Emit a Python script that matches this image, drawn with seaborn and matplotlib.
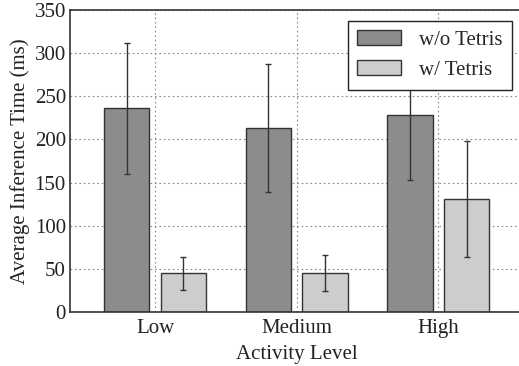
import numpy as np
import pandas as pd
import seaborn as sns
import matplotlib.pyplot as plt

#----------------------------------data
levels = ["Low", "Medium", "High"]
series = ["w/o Tetris", "w/ Tetris"]
mean_without = [236, 213, 228]
err_without = [76, 74, 75]
mean_with = [45, 45, 131]
err_with = [19, 21, 67]

df = pd.DataFrame({
    "level": levels * 2,
    "method": [series[0]] * 3 + [series[1]] * 3,
    "time": mean_without + mean_with,
    "err": err_without + err_with,
})

#----------------------------------style
sns.set_style("white")
plt.rcParams["font.family"] = ["Liberation Serif", "DejaVu Serif"]
fs = 15

fig = plt.figure(figsize=(5.19, 3.66), dpi=100)
ax = fig.add_axes([0.135, 0.1475, 0.873, 0.825])

ax = sns.barplot(data=df, x="level", y="time", hue="method", order=levels,
                 hue_order=series, palette=["#8c8c8c", "#cdcdcd"],
                 width=0.8, gap=0.2, edgecolor="#333333", linewidth=1.0,
                 errorbar=None, ax=ax, zorder=2)

#----------------------------------error bars on bar centres
for cont, m in zip(ax.containers, series):
    sub = df[df["method"] == m].set_index("level").loc[levels]
    xs = [p.get_x() + p.get_width() / 2 for p in cont.patches]
    ax.errorbar(xs, sub["time"], yerr=sub["err"], fmt="none",
                ecolor="#333333", elinewidth=1.0, capsize=2.5, capthick=1.0, zorder=3)

ax.set_xlim(-0.6, 2.6)
ax.set_ylim(0, 350)
ax.set_yticks(range(0, 351, 50))
ax.grid(True, linestyle=(0, (1.5, 2.5)), color="#888888", linewidth=0.8)
ax.set_axisbelow(True)
for s in ax.spines.values():
    s.set_color("#333333")
    s.set_linewidth(1.2)
ax.tick_params(axis="both", labelsize=fs, length=0, colors="#222222")
ax.tick_params(axis="y", pad=3)
ax.tick_params(axis="x", pad=5)

ax.set_xlabel("Activity Level", fontsize=fs, color="#222222", labelpad=5)
ax.set_ylabel("Average Inference Time (ms)", fontsize=fs, color="#222222", labelpad=3)

leg = ax.legend(loc="upper right", bbox_to_anchor=(0.976, 0.964), fontsize=fs,
                frameon=True, fancybox=False, edgecolor="#222222", framealpha=1,
                handlelength=2.1, handleheight=0.72, borderpad=0.45,
                labelspacing=0.5, handletextpad=0.9, borderaxespad=0)
leg.get_frame().set_linewidth(1.0)

fig.savefig("out.png", dpi=100)
